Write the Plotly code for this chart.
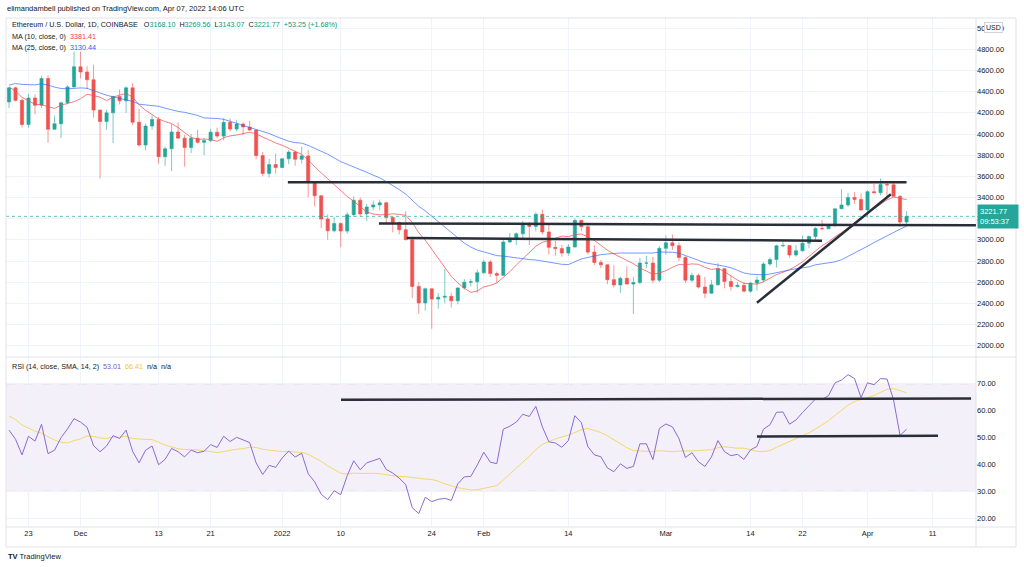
import plotly.graph_objects as go
import pandas as pd
import numpy as np

W, H = 1024, 567

# ---------------- data ----------------
# warm-up daily closes (Oct 1 - Nov 19, 2021) used only for the indicators
prior_close = [3308, 3390, 3418, 3380, 3518, 3580, 3587, 3561, 3575, 3416,
               3545, 3492, 3605, 3790, 3869, 3830, 3845, 3748, 3879, 4155,
               4055, 3970, 4170, 4085, 4220, 4132, 3925, 4288, 4415, 4323,
               4288, 4322, 4590, 4605, 4535, 4477, 4520, 4610, 4810, 4734,
               4636, 4730, 4667, 4650, 4625, 4555, 4213, 4285, 3990, 4303]

start_date = "2021-11-20"
opens = [4303, 4436, 4318, 4090, 4340, 4271, 4524, 4045, 4097, 4295, 4445,
         4635, 4586, 4512, 4226, 4117, 4200, 4355, 4313, 4436, 4111, 3896, 4075, 4137, 3786, 3861,
         4019, 3961, 3872, 3961, 3921, 3938, 4017, 3980, 4110, 4047, 4094, 4066, 4037, 3796, 3627, 3711,
         3683, 3766, 3829, 3761, 3793, 3539, 3416, 3196, 3085, 3155, 3083, 3238, 3375, 3245, 3310, 3330,
         3350, 3212, 3164, 3095, 3002, 2560, 2404, 2537, 2440, 2458, 2466, 2424, 2546, 2600, 2603,
         2688, 2791, 2681, 2665, 2980, 3012, 3057, 3144, 3127, 3241, 3074, 2929, 2917, 2875, 2932, 3184,
         3124, 2884, 2786, 2764, 2624, 2574, 2637, 2582, 2596, 2780, 2780, 2619,
         2920, 2972, 2945, 2834, 2619, 2664, 2554, 2495, 2575, 2728, 2606, 2558, 2570, 2515, 2591, 2620,
         2772, 2814, 2943, 2947, 2857, 2896, 2968, 3031, 3108, 3105, 3145, 3293, 3329, 3401, 3382,
         3283, 3455, 3445, 3522, 3520, 3411, 3168.10]
highs = [4445, 4448, 4335, 4380, 4375, 4550, 4555, 4175, 4305, 4460, 4780,
         4778, 4640, 4655, 4230, 4230, 4360, 4420, 4450, 4480, 4240, 4100, 4175, 4160, 3880, 4095,
         4110, 3990, 4000, 4040, 3960, 4050, 4060, 4150, 4145, 4135, 4110, 4125, 4040, 3830, 3765, 3815,
         3770, 3850, 3845, 3880, 3850, 3545, 3420, 3240, 3220, 3165, 3260, 3410, 3400, 3340, 3370, 3380,
         3360, 3220, 3175, 3270, 3030, 2600, 2550, 2540, 2500, 2725, 2500, 2550, 2630, 2630, 2720,
         2810, 2810, 2700, 3005, 3065, 3070, 3180, 3170, 3260, 3285, 3140, 2990, 2950, 2960, 3200,
         3190, 3160, 2950, 2810, 2770, 2760, 2650, 2750, 2650, 2830, 2850, 2840,
         2940, 3040, 3050, 2975, 2845, 2690, 2680, 2650, 2620, 2780, 2730, 2660, 2600, 2600, 2600, 2660,
         2790, 2835, 2955, 3000, 2950, 2950, 3040, 3040, 3120, 3190, 3150, 3295, 3480, 3445, 3450,
         3440, 3470, 3530, 3580, 3545, 3555, 3420, 3269.56]
lows = [4245, 4307, 4062, 4060, 4186, 4246, 3918, 4040, 3960, 4280, 4440,
        4525, 4425, 4155, 3580, 4040, 3915, 4280, 4200, 4085, 3880, 3845, 4040, 3720, 3700, 3650,
        3960, 3690, 3820, 3910, 3800, 3920, 3960, 3940, 4025, 4025, 3990, 4030, 3760, 3600, 3590, 3625,
        3680, 3715, 3700, 3720, 3400, 3315, 3110, 3000, 3070, 2930, 3060, 3215, 3220, 3180, 3280, 3280,
        3150, 3070, 3050, 2995, 2450, 2300, 2330, 2160, 2350, 2400, 2360, 2390, 2530, 2560, 2500,
        2680, 2650, 2590, 2660, 2970, 2950, 3010, 2950, 3080, 3050, 2860, 2850, 2840, 2850, 2930,
        3080, 2860, 2760, 2730, 2580, 2550, 2500, 2580, 2300, 2580, 2730, 2590,
        2600, 2860, 2905, 2800, 2590, 2600, 2540, 2450, 2490, 2570, 2540, 2520, 2550, 2505, 2500, 2520,
        2600, 2755, 2740, 2930, 2830, 2840, 2890, 2920, 2990, 3090, 3100, 3120, 3290, 3310, 3340,
        3270, 3210, 3440, 3420, 3400, 3410, 3125, 3143.07]
closes = [4436, 4318, 4090, 4340, 4271, 4524, 4045, 4097, 4295, 4445, 4635,
          4586, 4512, 4226, 4117, 4200, 4355, 4313, 4436, 4111, 3896, 4075, 4137, 3786, 3861, 4019,
          3961, 3872, 3961, 3921, 3938, 4017, 3980, 4110, 4047, 4094, 4066, 4037, 3796, 3627, 3711, 3683,
          3766, 3829, 3761, 3793, 3539, 3416, 3196, 3085, 3155, 3083, 3238, 3375, 3245, 3310, 3330, 3350,
          3212, 3164, 3095, 3002, 2560, 2404, 2537, 2440, 2458, 2466, 2424, 2546, 2600, 2603, 2688,
          2791, 2681, 2665, 2980, 3012, 3057, 3144, 3127, 3241, 3074, 2929, 2917, 2875, 2932, 3184, 3124,
          2884, 2786, 2764, 2624, 2574, 2637, 2582, 2596, 2780, 2780, 2619, 2920,
          2972, 2945, 2834, 2619, 2664, 2554, 2495, 2575, 2728, 2606, 2558, 2570, 2515, 2591, 2620, 2772,
          2814, 2943, 2947, 2857, 2896, 2968, 3031, 3108, 3105, 3145, 3293, 3329, 3401, 3382, 3283,
          3455, 3445, 3522, 3520, 3411, 3168, 3221.77]

# time-axis labels
tick_dates = ["2021-11-23", "2021-12-01", "2021-12-13", "2021-12-21", "2022-01-01", "2022-01-10",
              "2022-01-24", "2022-02-01", "2022-02-14", "2022-03-01", "2022-03-14", "2022-03-22",
              "2022-04-01", "2022-04-11"]
tick_text = ["23", "Dec", "13", "21", "2022", "10", "24", "Feb", "14", "Mar", "14", "22", "Apr", "11"]
price_ticks = [2000, 2200, 2400, 2600, 2800, 3000, 3200, 3400, 3600, 3800, 4000, 4200, 4400, 4600, 4800, 5000]
rsi_ticks = [20, 30, 40, 50, 60, 70]

# user-drawn lines (start, value, end, value)
price_lines = [("2022-01-01 21:00", 3545, "2022-04-07 00:00", 3545),
               ("2022-01-15 21:00", 3155, "2022-04-17 16:00", 3137),
               ("2022-01-20 04:00", 3017, "2022-03-25 00:00", 2992),
               ("2022-03-15 00:00", 2406, "2022-04-04 14:00", 3430)]
rsi_lines = [("2022-01-10 01:00", 64.0, "2022-04-16 22:00", 64.5),
             ("2022-03-15 00:00", 50.4, "2022-04-11 20:00", 50.7)]

last_price = 3221.77

# ---------------- indicators ----------------
dates = pd.date_range(start_date, periods=len(closes), freq="D")
prior_dates = pd.date_range(end=dates[0] - pd.Timedelta(days=1), periods=len(prior_close), freq="D")
all_close = pd.Series(prior_close + closes, index=prior_dates.append(dates), dtype=float)

ma10 = all_close.rolling(10).mean().loc[dates]
ma25 = all_close.rolling(25).mean().loc[dates]


def rma(s, n):
    v = s.values
    out = np.full(len(v), np.nan)
    out[n] = np.mean(v[1:n + 1])
    for i in range(n + 1, len(v)):
        out[i] = (out[i - 1] * (n - 1) + v[i]) / n
    return pd.Series(out, index=s.index)


delta = all_close.diff()
avg_gain = rma(delta.clip(lower=0), 14)
avg_loss = rma((-delta).clip(lower=0), 14)
rsi_all = 100 - 100 / (1 + avg_gain / avg_loss)
rsi_sma_all = rsi_all.rolling(14).mean()
rsi = rsi_all.loc[dates]
rsi_sma = rsi_sma_all.loc[dates]

# ---------------- layout geometry ----------------
def px(x):
    return x / W


def py(y):
    return 1 - y / H


PL, PR = 6, 976          # plot left/right (px)
MAIN_T, MAIN_B = 18, 357
RSI_T, RSI_B = 358, 527
PX_PER_DAY = 6.504
first_x = 9.0
x0 = dates[0] - pd.Timedelta(days=(first_x - PL) / PX_PER_DAY)
x1 = x0 + pd.Timedelta(days=(PR - PL) / PX_PER_DAY)

UP, DN = "#26a69a", "#ef5350"
FONT = "Liberation Sans, Arial, sans-serif"
TXT = "#131722"
GRID = "#f0f3fa"
FRAME = "#e0e3eb"

fig = go.Figure()
fig.add_trace(go.Candlestick(
    x=dates, open=opens, high=highs, low=lows, close=closes,
    xaxis="x", yaxis="y", whiskerwidth=0,
    increasing=dict(line=dict(color="rgba(38,166,154,0.6)", width=1), fillcolor=UP),
    decreasing=dict(line=dict(color="rgba(239,83,80,0.6)", width=1), fillcolor=DN),
    showlegend=False, hoverinfo="skip"))
fig.add_trace(go.Scatter(x=dates, y=ma10, mode="lines", xaxis="x", yaxis="y", hoverinfo="skip",
                         line=dict(color="rgba(242,80,85,0.75)", width=1), showlegend=False))
fig.add_trace(go.Scatter(x=dates, y=ma25, mode="lines", xaxis="x", yaxis="y", hoverinfo="skip",
                         line=dict(color="rgba(41,98,255,0.65)", width=1), showlegend=False))
fig.add_trace(go.Scatter(x=dates, y=rsi_sma, mode="lines", xaxis="x2", yaxis="y2", hoverinfo="skip",
                         line=dict(color="#f3d86b", width=1), showlegend=False))
fig.add_trace(go.Scatter(x=dates, y=rsi, mode="lines", xaxis="x2", yaxis="y2", hoverinfo="skip",
                         line=dict(color="#8c6bd0", width=1), showlegend=False))

shapes = []
# RSI band and level lines
shapes.append(dict(type="rect", xref="paper", yref="y2", x0=px(PL), x1=px(PR), y0=30, y1=70,
                   fillcolor="rgba(126,87,194,0.09)", line=dict(width=0), layer="below"))
for lv in (30, 50, 70):
    shapes.append(dict(type="line", xref="paper", yref="y2", x0=px(PL), x1=px(PR), y0=lv, y1=lv,
                       line=dict(color="#a3a6af", width=1, dash="dash"), layer="below"))
# last price dotted line
shapes.append(dict(type="line", xref="paper", yref="y", x0=px(PL), x1=px(PR), y0=last_price, y1=last_price,
                   line=dict(color="rgba(38,166,154,0.7)", width=1, dash="dot")))
# frame
for (xa, ya, xb, yb) in [(PL, MAIN_T, 1016, MAIN_T), (PL, MAIN_B, 1016, MAIN_B), (PL, RSI_B, 1016, RSI_B),
                         (PL, 547, 1016, 547), (PL, MAIN_T, PL, 547), (PR, MAIN_T, PR, 547),
                         (1016, MAIN_T, 1016, 547)]:
    shapes.append(dict(type="line", xref="paper", yref="paper", x0=px(xa), y0=py(ya), x1=px(xb), y1=py(yb),
                       line=dict(color=FRAME, width=1)))
# drawn trend lines
for (d0, v0, d1, v1) in price_lines:
    shapes.append(dict(type="line", xref="x", yref="y", x0=d0, y0=v0, x1=d1, y1=v1,
                       line=dict(color="#2a2e39", width=2.5)))
for (d0, v0, d1, v1) in rsi_lines:
    shapes.append(dict(type="line", xref="x2", yref="y2", x0=d0, y0=v0, x1=d1, y1=v1,
                       line=dict(color="#2a2e39", width=2.5)))

ann = []


def text(x, y, s, size=8, color=TXT, **kw):
    d = dict(xref="paper", yref="paper", x=px(x), y=py(y), text=s, showarrow=False,
             xanchor="left", yanchor="middle", font=dict(family=FONT, size=size, color=color))
    d.update(kw)
    ann.append(d)


g = "<span style='color:#089981'>%s</span>"
text(5, 9, "elimandambell published on TradingView.com, Apr 07, 2022 14:06 UTC", size=7.5)
text(10, 25, "Ethereum / U.S. Dollar, 1D, COINBASE   O" + g % "3168.10" + "  H" + g % "3269.56"
     + "  L" + g % "3143.07" + "  C" + g % "3221.77" + "  " + g % "+53.25 (+1.68%)", size=7.2)
text(10, 36, "MA (10, close, 0)  <span style='color:#f23645'>3381.41</span>", size=7.2)
text(10, 47, "MA (25, close, 0)  <span style='color:#2962ff'>3130.44</span>", size=7.2)
text(10, 366, "RSI (14, close, SMA, 14, 2)  <span style='color:#7e57c2'>53.01</span>  "
     "<span style='color:#f5c518'>66.41</span>  n/a  n/a", size=7.2)
# USD badge over the top price label
ann.append(dict(xref="paper", yref="paper", x=px(993), y=py(27), text="USD", showarrow=False,
                xanchor="center", yanchor="middle", bgcolor="white", bordercolor="#d1d4dc",
                borderwidth=1, borderpad=1, font=dict(family=FONT, size=7, color=TXT)))
# last price label
ann.append(dict(xref="paper", yref="paper", x=px(977), y=py(216), text="3221.77<br>09:53:37",
                showarrow=False, xanchor="left", yanchor="middle", bgcolor=UP, borderpad=2,
                width=36, align="left", font=dict(family=FONT, size=7.5, color="white")))
# footer logo
text(6, 556, "<b>TV</b> TradingView", size=7.5, color="#131722")

fig.update_layout(
    width=W, height=H, margin=dict(l=0, r=0, t=0, b=0),
    paper_bgcolor="white", plot_bgcolor="white", showlegend=False,
    font=dict(family=FONT, size=8, color=TXT), hovermode=False,
    xaxis=dict(domain=[px(PL), px(PR)], anchor="y", type="date", range=[x0, x1],
               tickvals=tick_dates, showticklabels=False, showgrid=True, gridcolor=GRID,
               zeroline=False, ticks="", rangeslider=dict(visible=False), matches="x2"),
    xaxis2=dict(domain=[px(PL), px(PR)], anchor="y2", type="date", range=[x0, x1],
                tickvals=tick_dates, ticktext=tick_text, showgrid=True, gridcolor=GRID,
                zeroline=False, ticks="", tickfont=dict(size=7.5, color=TXT)),
    yaxis=dict(domain=[py(MAIN_B), py(MAIN_T)], anchor="x", side="right", range=[1893, 5096],
               tickvals=price_ticks, ticktext=["%.2f" % v for v in price_ticks], showgrid=True,
               gridcolor=GRID, zeroline=False, ticks="", tickfont=dict(size=7.5, color=TXT)),
    yaxis2=dict(domain=[py(RSI_B), py(RSI_T)], anchor="x2", side="right", range=[16.8, 79.5],
                tickvals=rsi_ticks, ticktext=["%.2f" % v for v in rsi_ticks], showgrid=True,
                gridcolor=GRID, zeroline=False, ticks="", tickfont=dict(size=7.5, color=TXT)),
    shapes=shapes, annotations=ann,
)

fig.write_html("out.html", config={"displayModeBar": False},
               post_script="document.body.style.margin='0px';document.body.style.overflow='hidden';")
